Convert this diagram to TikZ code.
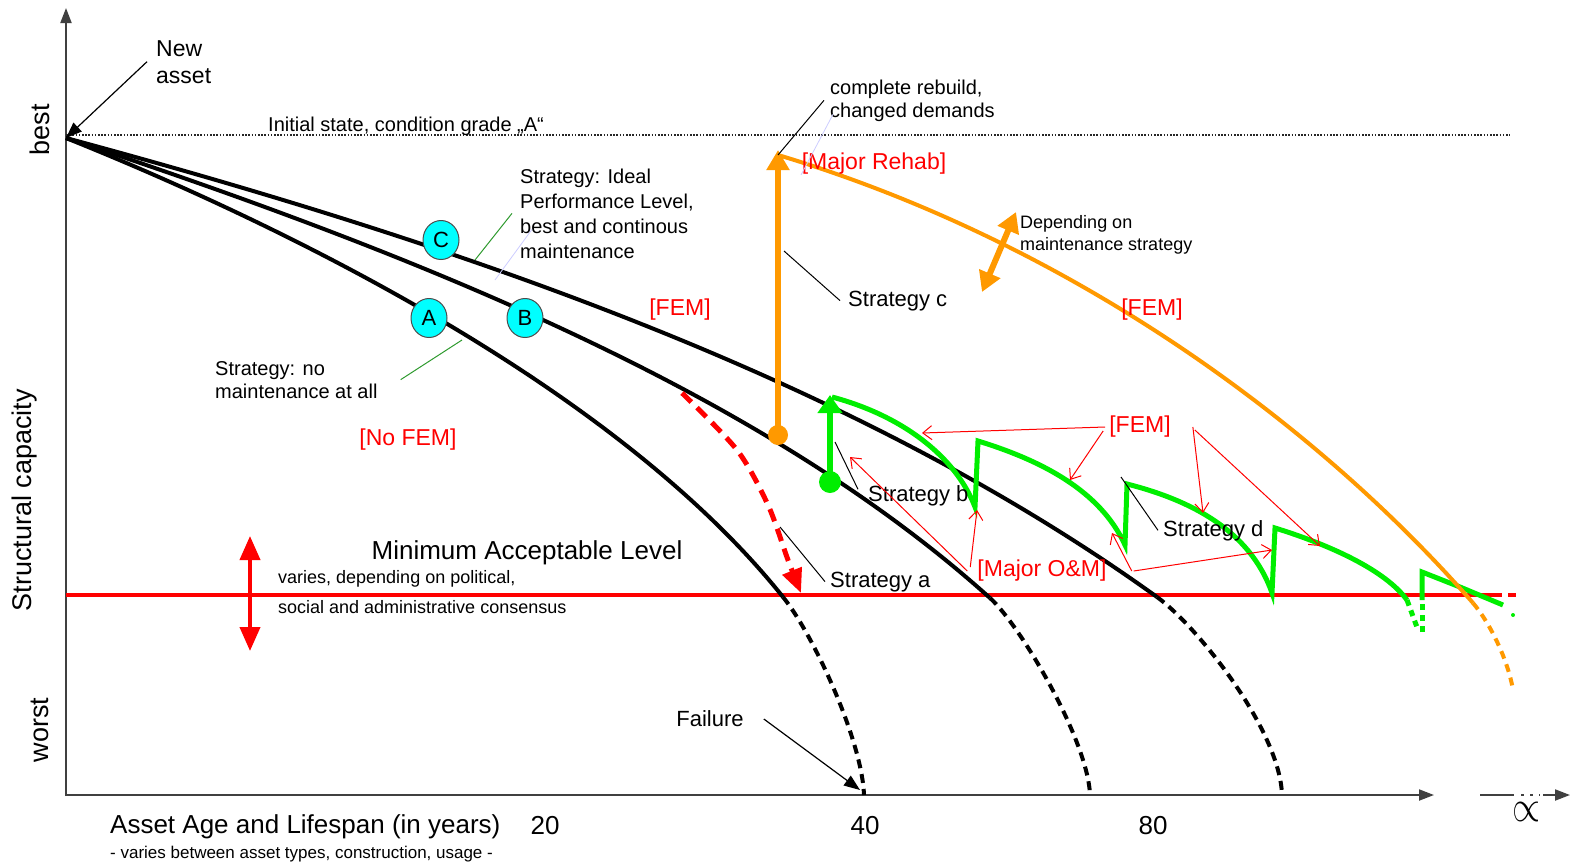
\documentclass[tikz,border=0pt]{standalone}
\usepackage{fontspec}
\setmainfont{Liberation Sans}
\usetikzlibrary{arrows.meta, positioning, shapes.geometric}
\definecolor{RehabOrange}{HTML}{FF9900}
\definecolor{OMGreen}{HTML}{00EE00}
\definecolor{FemRed}{HTML}{FF0000}
\definecolor{GradeCyan}{HTML}{00FFFF}
\definecolor{AxisGray}{HTML}{404040}
\definecolor{LeaderGreen}{HTML}{2E9A2E}
\tikzset{
  % text styles
  smalltext/.style={font=\fontsize{20}{25}\selectfont, inner sep=0pt, align=left},
  strattext/.style={font=\fontsize{22}{26}\selectfont, inner sep=0pt},
  redtext/.style={font=\fontsize{23}{27}\selectfont, text=FemRed, inner sep=0pt},
  bigtext/.style={font=\fontsize{27}{30}\selectfont, inner sep=0pt},
  gradecircle/.style={ellipse, draw=black!70, line width=1pt, fill=GradeCyan, minimum width=36pt, minimum height=39pt, inner sep=0pt, font=\fontsize{22}{24}\selectfont},
  % line styles
  axisline/.style={AxisGray, line width=2pt},
  agecurve/.style={black, line width=4pt},
  failcurve/.style={black, line width=4pt, dash pattern=on 9pt off 6pt},
  omcurve/.style={OMGreen, line width=5pt},
  rehabcurve/.style={RehabOrange, line width=4pt},
  % arrow styles
  leader/.style={black, line width=1pt},
  faintleader/.style={blue!20, line width=0.8pt},
  pointer/.style={black, line width=1.2pt, -{Triangle[length=16pt,width=12pt]}},
  redarrow/.style={FemRed, line width=1pt, -{Straight Barb[length=9pt,width=14pt]}},
  bigtip/.style={-{Triangle[length=15pt,width=11pt]}}
}

\begin{document}
\begin{tikzpicture}[x=1pt, y=-1pt]
  \useasboundingbox (0,0) rectangle (1574,865);

  % axes
  \draw[axisline, bigtip] (66,796) -- (66,8);
  \draw[axisline, bigtip] (66,795) -- (1434,795);
  \draw[axisline] (1480,795) -- (1514,795);
  \draw[axisline, dash pattern=on 3pt off 6pt] (1521,795) -- (1540,795);
  \draw[axisline, bigtip] (1543,795) -- (1570,795);

  % initial state and minimum level
  \draw[black!85, line width=1.6pt, dash pattern=on 1.6pt off 1.6pt] (66,135) -- (1510,135);
  \draw[FemRed, line width=4pt] (66,595) -- (1502,595);
  \draw[FemRed, line width=4pt] (1508,595) -- (1516,595);
  \draw[FemRed, line width=4pt, {Triangle[length=24pt,width=20pt]}-{Triangle[length=24pt,width=20pt]}] (250,536) -- (250,651);

  % deterioration curves
  \draw[agecurve] (66,138) .. controls (300,232) and (620,393) .. (783,597);
  \draw[failcurve] (783,597) .. controls (813,634) and (862,740) .. (864,795);
  \draw[agecurve] (66,138) .. controls (416,254) and (760,391) .. (990,598);
  \draw[failcurve] (990,598) .. controls (1020,625) and (1088,740) .. (1090,795);
  \draw[agecurve] (66,138) .. controls (466,246) and (857,381) .. (1157,597);
  \draw[failcurve] (1157,597) .. controls (1197,626) and (1280,730) .. (1282,795);

  % strategy a
  \draw[FemRed, line width=5pt, dash pattern=on 13pt off 8pt, -{Triangle[length=24pt,width=20pt]}] plot[smooth] coordinates {(682,393) (737,450) (768,505) (788,560) (801,593)};

  % strategy b and d
  \fill[OMGreen] (830,482) circle (11);
  \draw[omcurve, line width=6pt, -{Triangle[length=18pt,width=24pt]}] (830,482) -- (830,395);
  \draw[omcurve] (832,397) .. controls (900,415) and (955,455) .. (975,507)
    -- (978,441) .. controls (1040,460) and (1100,490) .. (1125,545)
    -- (1127,484) .. controls (1190,500) and (1250,530) .. (1272,593)
    -- (1275,528) .. controls (1330,545) and (1385,570) .. (1407,600);
  \draw[omcurve, dash pattern=on 6pt off 5pt] (1407,600) -- (1418,630);
  \draw[omcurve, dash pattern=on 6pt off 5pt] (1422,632) -- (1422,600);
  \draw[omcurve] (1422,600) -- (1422,572) -- (1460,587) -- (1503,605);
  \fill[OMGreen] (1513,615) circle (2);

  % strategy c
  \draw[rehabcurve] (778,155) .. controls (1078,245) and (1323,431) .. (1473,603);
  \draw[rehabcurve, dash pattern=on 8pt off 6pt] (1473,603) .. controls (1490,623) and (1508,660) .. (1513,690);
  \fill[RehabOrange] (778,435) circle (10);
  \draw[RehabOrange, line width=6pt, -{Triangle[length=20pt,width=22pt]}] (778,435) -- (778,150);
  \draw[RehabOrange, line width=6pt, {Triangle[length=20pt,width=22pt]}-{Triangle[length=20pt,width=22pt]}] (1016,212) -- (982,292);

  % grade circles
  \node[gradecircle] (gradeC) at (441,240) {C};
  \node[gradecircle] (gradeA) at (429,318) {A};
  \node[gradecircle] (gradeB) at (525,318) {B};

  % axis labels
  \node[bigtext, rotate=90] (best) at (40,130) {best};
  \node[bigtext, rotate=90] (capacity) at (25,500) {Structural capacity};
  \node[bigtext, rotate=90] (worst) at (40,730) {worst};
  \node[bigtext, anchor=base west, font=\fontsize{26}{30}\selectfont] (agelabel) at (110,833) {Asset Age and Lifespan (in years)};
  \node[bigtext, font=\fontsize{26}{30}\selectfont] (tick20) at (545,826) {20};
  \node[bigtext, font=\fontsize{26}{30}\selectfont] (tick40) at (865,826) {40};
  \node[bigtext, font=\fontsize{26}{30}\selectfont] (tick80) at (1153,826) {80};
  \node[smalltext, anchor=base west, font=\fontsize{17}{20}\selectfont] (agenote) at (110,858) {- varies between asset types, construction, usage -};
  \node[bigtext] (infinity) at (1526,812) {\resizebox{28pt}{19pt}{$\propto$}};

  % texts (base = last line)
  \node[smalltext, anchor=base west, font=\fontsize{23}{27}\selectfont] (newasset) at (156,83) {New\\asset};
  \node[smalltext, anchor=base west] (initstate) at (268,131) {Initial state, condition grade „A“};
  \node[smalltext, anchor=base west, font=\fontsize{20}{23}\selectfont] (rebuild) at (830,117) {complete rebuild,\\changed demands};
  \node[redtext] (rehab) at (874,164) {[Major Rehab]};
  \node[smalltext, anchor=base west] (ideal) at (520,258) {Strategy: Ideal\\Performance Level,\\best and continous\\maintenance};
  \node[smalltext, anchor=base west, font=\fontsize{18}{22}\selectfont] (depending) at (1020,250) {Depending on\\maintenance strategy};
  \node[strattext, anchor=base west] (stratC) at (848,306) {Strategy c};
  \node[redtext] (femC) at (680,310) {[FEM]};
  \node[redtext] (femRehab) at (1152,310) {[FEM]};
  \node[smalltext, anchor=base west, font=\fontsize{20}{23}\selectfont] (nomaint) at (215,398) {Strategy: no\\maintenance at all};
  \node[redtext] (nofem) at (408,440) {[No FEM]};
  \node[redtext] (femOM) at (1140,427) {[FEM]};
  \node[strattext, anchor=base west] (stratB) at (868,501) {Strategy b};
  \node[strattext, anchor=base west] (stratD) at (1163,536) {Strategy d};
  \node[bigtext, anchor=base, font=\fontsize{26}{30}\selectfont] (minlevel) at (527,559) {Minimum Acceptable Level};
  \node[smalltext, anchor=base west, font=\fontsize{18}{30}\selectfont] (varies) at (278,613) {varies, depending on political,\\social and administrative consensus};
  \node[redtext] (majorOM) at (1042,571) {[Major O\&M]};
  \node[strattext, anchor=base west] (stratA) at (830,587) {Strategy a};
  \node[strattext] (failure) at (710,719) {Failure};

  % leader points
  \coordinate (origin) at (66,138);
  \coordinate (rehabTop) at (778,155);
  \coordinate (stratCpt) at (784,251);
  \coordinate (idealPt) at (475,260);
  \coordinate (noPt) at (462,340);
  \coordinate (stratApt) at (780,527);
  \coordinate (stratBpt) at (835,442);
  \coordinate (stratDpt) at (1121,477);
  \coordinate (failPt) at (860,790);

  % leaders
  \draw[pointer] ([xshift=-9]newasset.west) -- (origin);
  \draw[leader] ([xshift=-6]rebuild.west) -- (rehabTop);
  \draw[faintleader] ([shift={(3,14)}]rebuild.west) -- (801,175);
  \draw[leader] ([xshift=-8]stratC.west) -- (stratCpt);
  \draw[LeaderGreen, line width=1pt] ([xshift=-8]ideal.west) -- (idealPt);
  \draw[faintleader] ([shift={(12,16)}]ideal.west) -- (495,280);
  \draw[LeaderGreen, line width=1pt] ([xshift=23]nomaint.east) -- (noPt);
  \draw[leader] ([xshift=-5]stratA.west) -- (stratApt);
  \draw[leader] ([shift={(-10,-6)}]stratB.west) -- (stratBpt);
  \draw[leader] ([xshift=-5]stratD.west) -- (stratDpt);
  \draw[pointer] ([xshift=20]failure.east) -- (failPt);

  % FEM and major O&M arrows
  \draw[redarrow] ([xshift=-4]femOM.west) -- (922,433);
  \draw[redarrow] ([shift={(-6,4)}]femOM.west) -- (1070,480);
  \draw[redarrow] ([xshift=22]femOM.east) -- (1203,513);
  \draw[redarrow] ([shift={(24,3)}]femOM.east) -- (1320,546);
  \draw[redarrow] ([xshift=-10]majorOM.west) -- (850,457);
  \draw[redarrow] ([shift={(-7,-4)}]majorOM.west) -- (977,510);
  \draw[redarrow] ([xshift=25]majorOM.east) -- (1112,533);
  \draw[redarrow] ([xshift=27]majorOM.east) -- (1272,550);
\end{tikzpicture}
\end{document}
